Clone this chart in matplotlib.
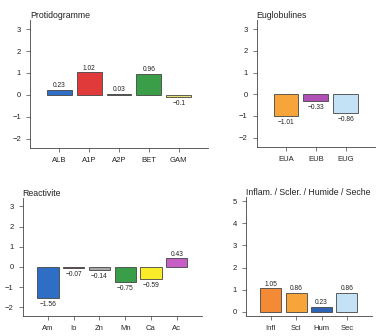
import matplotlib
matplotlib.use("Agg")
import matplotlib.pyplot as plt

plt.rcParams["font.family"] = ["Liberation Sans", "DejaVu Sans"]

# ── data ─────────────────────────────────────────
prot_labels = ["ALB", "A1P", "A2P", "BET", "GAM"]
prot_values = [0.23, 1.02, 0.03, 0.96, -0.1]
prot_colors = ["#2e6ec4", "#e03a3a", "#555555", "#3a9e48", "#e6e27a"]

eug_labels = ["EUA", "EUB", "EUG"]
eug_values = [-1.01, -0.33, -0.86]
eug_colors = ["#f7a43a", "#b04fb4", "#c4e2f6"]

react_labels = ["Am", "Io", "Zn", "Mn", "Ca", "Ac"]
react_values = [-1.56, -0.07, -0.14, -0.75, -0.59, 0.43]
react_colors = ["#2e6ec4", "#a0202a", "#a8a8a8", "#3a9e48", "#fbec2a", "#c65ec6"]

infl_labels = ["Infl", "Scl", "Hum", "Sec"]
infl_values = [1.05, 0.86, 0.23, 0.86]
infl_colors = ["#f48a36", "#f7a43a", "#2e64b4", "#c4e2f6"]

AX_COL = "#444444"


def bar_panel(rect, title, labels, values, colors, ylim, yticks):
    ax = fig.add_axes(rect)
    x = list(range(len(labels)))
    ax.bar(x, values, width=0.83, color=colors, edgecolor="#444444", linewidth=0.6)
    ax.set_xlim(-0.98, len(labels) - 0.02)
    ax.set_ylim(*ylim)
    ax.set_xticks(x)
    ax.set_xticklabels(labels)
    ax.set_yticks(yticks)
    ax.set_yticklabels([f"{t}" if t >= 0 else f"\u2212{-t}" for t in yticks])
    for s in ["top", "right"]:
        ax.spines[s].set_visible(False)
    for s in ["left", "bottom"]:
        ax.spines[s].set_color(AX_COL)
        ax.spines[s].set_linewidth(0.6)
    ax.tick_params(colors=AX_COL, labelcolor="#222222", labelsize=5.5,
                   length=3, width=0.5, pad=3.5)
    ax.set_title(title, loc="left", fontsize=6.3, pad=1.5, color="#222222")

    # value labels: above positive bars, below negative bars
    for xi, v in zip(x, values):
        txt = f"{v}" if v >= 0 else f"\u2212{-v}"
        if v >= 0:
            ax.annotate(txt, (xi, v), xytext=(0, 0.5), textcoords="offset points",
                        ha="center", va="bottom", fontsize=4.8, color="#222222")
        else:
            ax.annotate(txt, (xi, v), xytext=(0, -2), textcoords="offset points",
                        ha="center", va="top", fontsize=4.8, color="#222222")
    return ax


W, H = 379, 336
fig = plt.figure(figsize=(W / 100, H / 100), dpi=100, facecolor="white")


def rect(left, top, right, bottom):
    return [left / W, 1 - bottom / H, (right - left) / W, (bottom - top) / H]


bar_panel(rect(30, 20, 208, 147.7), "Protidogramme",
          prot_labels, prot_values, prot_colors, (-2.42, 3.42), [-2, -1, 0, 1, 2, 3])
bar_panel(rect(256.7, 20, 375, 146.7), "Euglobulines",
          eug_labels, eug_values, eug_colors, (-2.42, 3.42), [-2, -1, 0, 1, 2, 3])
bar_panel(rect(22.7, 198, 202, 315.7), "Reactivite",
          react_labels, react_values, react_colors, (-2.42, 3.42), [-2, -1, 0, 1, 2, 3])
bar_panel(rect(246, 197, 371.7, 316), "Inflam. / Scler. / Humide / Seche",
          infl_labels, infl_values, infl_colors, (-0.2, 5.2), [0, 1, 2, 3, 4, 5])

fig.savefig("out.png", dpi=100)
